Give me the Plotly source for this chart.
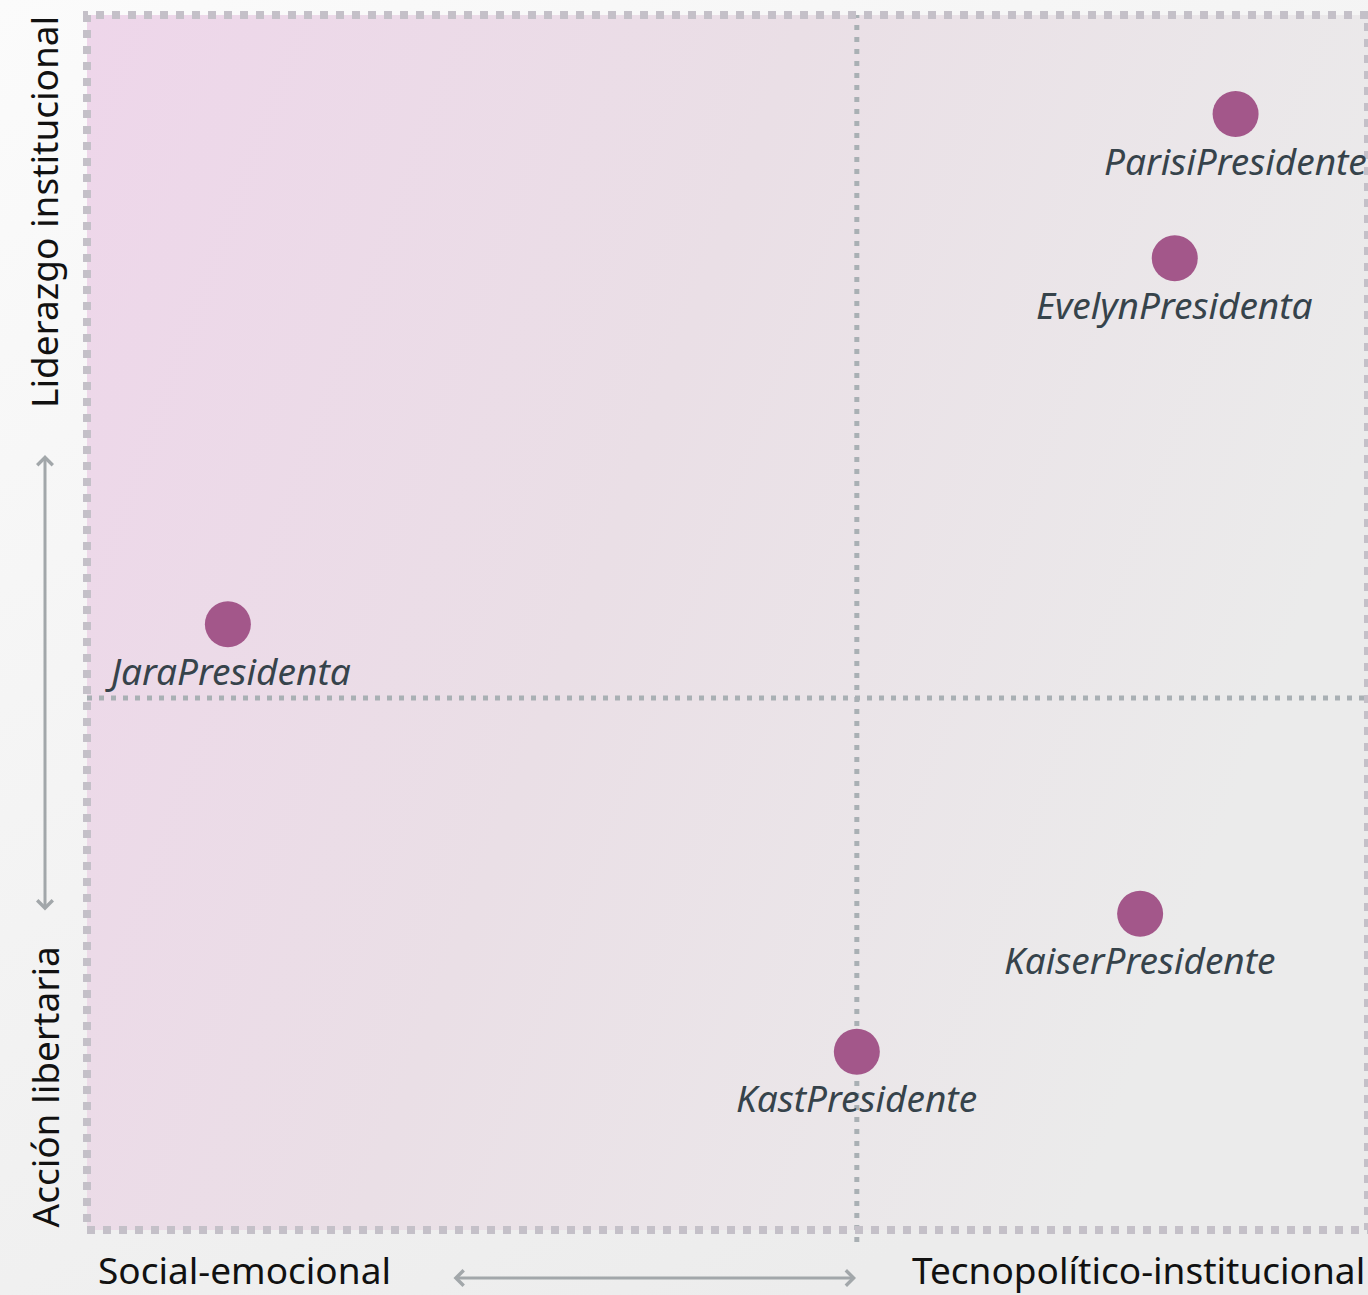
import base64
import plotly.graph_objects as go

# ---- data ----
names = ["ParisiPresidente", "EvelynPresidenta", "JaraPresidenta", "KaiserPresidente", "KastPresidente"]
x_vals = [0.492, 0.413, -0.817, 0.368, 0.0]
y_vals = [0.855, 0.644, 0.108, -0.316, -0.518]
x_range = [-1.0, 0.664]
y_range = [-0.779, 1.0]
x_left_label = "Social-emocional"
x_right_label = "Tecnopolítico-institucional"
y_top_label = "Liderazgo institucional"
y_bottom_label = "Acción libertaria"

W, H = 1368, 1295
ML, MR, MT, MB = 87, 0, 15, 65
PW, PH = W - ML - MR, H - MT - MB


def svg_uri(svg):
    return "data:image/svg+xml;base64," + base64.b64encode(svg.encode()).decode()


plot_grad = svg_uri(
    '<svg xmlns="http://www.w3.org/2000/svg" width="100" height="100" preserveAspectRatio="none">'
    '<defs><linearGradient id="g" x1="0" y1="0" x2="1" y2="0.35">'
    '<stop offset="0" stop-color="#eed6ea"/><stop offset="0.5" stop-color="#eadfe6"/>'
    '<stop offset="1" stop-color="#ebebeb"/></linearGradient></defs>'
    '<rect width="100" height="100" fill="url(#g)"/></svg>'
)
page_grad = svg_uri(
    '<svg xmlns="http://www.w3.org/2000/svg" width="100" height="100" preserveAspectRatio="none">'
    '<defs><linearGradient id="g" x1="0" y1="0" x2="0.6" y2="1">'
    '<stop offset="0" stop-color="#fbfbfb"/><stop offset="1" stop-color="#ececec"/></linearGradient></defs>'
    '<rect width="100" height="100" fill="url(#g)"/></svg>'
)

fig = go.Figure()
fig.add_trace(go.Scatter(
    x=x_vals, y=y_vals, mode="markers",
    marker=dict(size=46, color="#a3578a", line=dict(width=0)),
    hoverinfo="skip", cliponaxis=False,
))


def px_to_paper_x(p):
    return (p - ML) / PW


def px_to_paper_y(p):
    return 1 - (p - MT) / PH


shapes = [
    dict(type="line", xref="x", yref="paper", x0=0, x1=0, y0=px_to_paper_y(1242), y1=1,
         line=dict(color="#a9b0b4", width=5, dash="5px,7px"), layer="below"),
    dict(type="line", xref="paper", yref="y", x0=0, x1=1, y0=0, y1=0,
         line=dict(color="#a9b0b4", width=5, dash="5px,7px"), layer="below"),
    dict(type="rect", xref="paper", yref="paper", x0=0, x1=1, y0=0, y1=1,
         line=dict(color="#c4c0c8", width=8, dash="8px,8px"), layer="below"),
]

images = [
    dict(source=page_grad, xref="paper", yref="paper", x=-ML / PW, y=1 + MT / PH,
         sizex=W / PW, sizey=H / PH, sizing="stretch", layer="below", xanchor="left", yanchor="top"),
    dict(source=plot_grad, xref="paper", yref="paper", x=0, y=1, sizex=1, sizey=1,
         sizing="stretch", layer="below", xanchor="left", yanchor="top"),
]

label_font = dict(family="Noto Sans", size=37, color="#36434b", style="italic")
annotations = [
    dict(text=n, xref="x", yref="y", x=xv, y=yv, yshift=-46, xanchor="center", yanchor="middle",
         showarrow=False, font=label_font)
    for n, xv, yv in zip(names, x_vals, y_vals)
]

axis_font = dict(family="Noto Sans", size=37, color="#111111")
annotations += [
    dict(text=x_left_label, xref="paper", yref="paper", x=px_to_paper_x(96), y=px_to_paper_y(1269),
         xanchor="left", yanchor="middle", showarrow=False, font=axis_font),
    dict(text=x_right_label, xref="paper", yref="paper", x=px_to_paper_x(1367), y=px_to_paper_y(1269),
         xanchor="right", yanchor="middle", showarrow=False, font=axis_font),
    dict(text=y_top_label, xref="paper", yref="paper", x=px_to_paper_x(44), y=px_to_paper_y(14),
         xanchor="center", yanchor="top", textangle=-90, showarrow=False, font=axis_font),
    dict(text=y_bottom_label, xref="paper", yref="paper", x=px_to_paper_x(44), y=px_to_paper_y(1230),
         xanchor="center", yanchor="bottom", textangle=-90, showarrow=False, font=axis_font),
    dict(text="", xref="paper", yref="paper", x=px_to_paper_x(856), y=px_to_paper_y(1278),
         axref="pixel", ayref="pixel", ax=-404, ay=0, showarrow=True, arrowside="end+start",
         arrowhead=4, startarrowhead=4, arrowsize=1, startarrowsize=1, arrowwidth=3, arrowcolor="#a2a7aa"),
    dict(text="", xref="paper", yref="paper", x=px_to_paper_x(45), y=px_to_paper_y(455),
         axref="pixel", ayref="pixel", ax=0, ay=457, showarrow=True, arrowside="end+start",
         arrowhead=4, startarrowhead=4, arrowsize=1, startarrowsize=1, arrowwidth=3, arrowcolor="#a2a7aa"),
]

fig.update_layout(
    width=W, height=H, margin=dict(l=ML, r=MR, t=MT, b=MB),
    paper_bgcolor="#f0f0f0", plot_bgcolor="rgba(0,0,0,0)",
    showlegend=False, shapes=shapes, images=images, annotations=annotations,
    xaxis=dict(range=x_range, showgrid=False, zeroline=False, showticklabels=False, ticks="", fixedrange=True),
    yaxis=dict(range=y_range, showgrid=False, zeroline=False, showticklabels=False, ticks="", fixedrange=True),
)

fig.write_html(
    "out.html",
    config={"displayModeBar": False},
    post_script="document.body.style.margin='0';document.body.style.overflow='hidden';",
)
